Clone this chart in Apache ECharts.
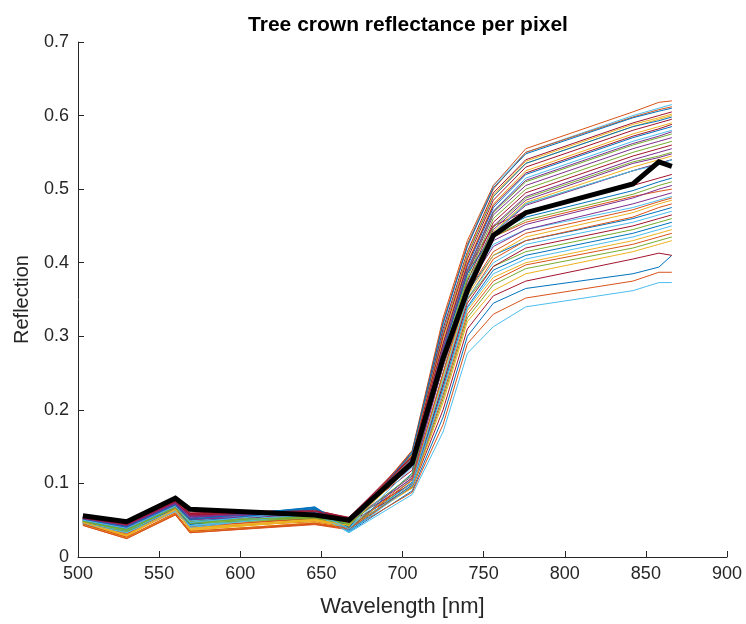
<!DOCTYPE html>
<html>
<head>
<meta charset="utf-8">
<script src="https://cdn.jsdelivr.net/npm/echarts@6/dist/echarts.min.js"></script>
<style>
html,body{margin:0;padding:0;background:#fff;}
#chart{width:746px;height:624px;}
</style>
</head>
<body>
<div id="chart"></div>
<script>
const wavelengths = [503, 530, 560, 569, 646, 667, 706, 725, 740, 756, 776, 842, 858, 866];
const xTicks = [500, 550, 600, 650, 700, 750, 800, 850, 900];
const yTicks = [0, 0.1, 0.2, 0.3, 0.4, 0.5, 0.6, 0.7];
const chartTitle = 'Tree crown reflectance per pixel';
const xLabel = 'Wavelength [nm]';
const yLabel = 'Reflection';
const lineColors = ['#0072BD', '#D95319', '#EDB120', '#7E2F8E', '#77AC30', '#4DBEEE', '#A2142F'];

const crownSpectrum = [0.056, 0.048, 0.080, 0.065, 0.057, 0.050, 0.128, 0.270, 0.362, 0.437, 0.468, 0.507, 0.537, 0.531];

const pixelSpectra = [
  [0.050,0.040,0.070,0.052,0.062,0.044,0.135,0.290,0.395,0.475,0.520,0.570,0.580,0.585],
  [0.046,0.030,0.062,0.040,0.048,0.040,0.108,0.280,0.390,0.435,0.455,0.490,0.497,0.500],
  [0.047,0.028,0.066,0.036,0.050,0.042,0.138,0.300,0.410,0.490,0.535,0.585,0.595,0.600],
  [0.052,0.042,0.072,0.055,0.060,0.047,0.128,0.265,0.370,0.450,0.490,0.540,0.550,0.555],
  [0.049,0.036,0.068,0.048,0.054,0.043,0.100,0.240,0.350,0.395,0.415,0.445,0.455,0.460],
  [0.051,0.041,0.071,0.050,0.064,0.040,0.142,0.315,0.425,0.505,0.550,0.600,0.610,0.615],
  [0.053,0.044,0.074,0.058,0.063,0.052,0.118,0.285,0.390,0.450,0.470,0.505,0.515,0.520],
  [0.048,0.038,0.066,0.045,0.066,0.036,0.102,0.250,0.360,0.410,0.430,0.460,0.470,0.475],
  [0.049,0.032,0.067,0.042,0.052,0.043,0.145,0.325,0.430,0.505,0.555,0.605,0.618,0.620],
  [0.045,0.027,0.060,0.035,0.046,0.039,0.097,0.225,0.335,0.380,0.400,0.430,0.440,0.445],
  [0.052,0.043,0.073,0.056,0.061,0.050,0.132,0.280,0.385,0.465,0.505,0.555,0.565,0.570],
  [0.050,0.039,0.070,0.050,0.056,0.046,0.124,0.260,0.360,0.440,0.480,0.525,0.535,0.540],
  [0.047,0.035,0.064,0.043,0.058,0.038,0.106,0.270,0.375,0.425,0.445,0.475,0.485,0.490],
  [0.054,0.045,0.076,0.060,0.064,0.053,0.140,0.310,0.415,0.495,0.540,0.590,0.600,0.605],
  [0.046,0.035,0.063,0.040,0.065,0.034,0.090,0.190,0.300,0.345,0.365,0.385,0.394,0.410],
  [0.044,0.026,0.058,0.034,0.045,0.038,0.098,0.235,0.350,0.405,0.430,0.462,0.475,0.480],
  [0.048,0.030,0.067,0.040,0.051,0.044,0.136,0.295,0.400,0.480,0.525,0.575,0.585,0.590],
  [0.051,0.040,0.070,0.052,0.059,0.048,0.110,0.265,0.370,0.430,0.452,0.488,0.500,0.505],
  [0.050,0.038,0.069,0.049,0.055,0.045,0.130,0.275,0.380,0.460,0.500,0.550,0.560,0.565],
  [0.045,0.034,0.062,0.041,0.060,0.033,0.085,0.170,0.277,0.313,0.340,0.362,0.373,0.373],
  [0.050,0.041,0.068,0.050,0.058,0.047,0.094,0.200,0.310,0.355,0.375,0.405,0.413,0.410],
  [0.052,0.042,0.071,0.053,0.067,0.041,0.140,0.305,0.410,0.490,0.535,0.585,0.593,0.598],
  [0.043,0.025,0.057,0.033,0.044,0.037,0.088,0.180,0.290,0.330,0.352,0.375,0.387,0.387],
  [0.046,0.029,0.063,0.038,0.049,0.041,0.104,0.245,0.355,0.410,0.435,0.468,0.480,0.485],
  [0.053,0.044,0.074,0.057,0.062,0.051,0.126,0.262,0.365,0.445,0.485,0.535,0.543,0.548],
  [0.047,0.034,0.065,0.045,0.052,0.041,0.095,0.215,0.325,0.370,0.392,0.420,0.430,0.435],
  [0.050,0.040,0.070,0.049,0.063,0.039,0.134,0.285,0.390,0.470,0.515,0.565,0.575,0.580],
  [0.052,0.043,0.072,0.055,0.061,0.050,0.100,0.235,0.345,0.395,0.420,0.450,0.460,0.465],
  [0.047,0.037,0.065,0.044,0.068,0.035,0.098,0.230,0.340,0.390,0.410,0.440,0.450,0.455],
  [0.048,0.031,0.066,0.041,0.053,0.042,0.144,0.320,0.425,0.500,0.550,0.598,0.608,0.612],
  [0.044,0.026,0.059,0.034,0.047,0.039,0.094,0.210,0.320,0.362,0.385,0.415,0.425,0.430],
  [0.051,0.041,0.072,0.054,0.060,0.049,0.123,0.258,0.360,0.440,0.478,0.525,0.535,0.540],
  [0.049,0.037,0.068,0.047,0.054,0.044,0.133,0.282,0.388,0.468,0.510,0.560,0.570,0.575],
  [0.046,0.036,0.064,0.042,0.061,0.036,0.101,0.240,0.352,0.400,0.425,0.455,0.465,0.470],
  [0.053,0.045,0.075,0.058,0.062,0.052,0.129,0.270,0.375,0.455,0.495,0.545,0.555,0.560],
  [0.049,0.039,0.068,0.047,0.066,0.037,0.114,0.280,0.385,0.440,0.462,0.498,0.510,0.515],
  [0.043,0.025,0.058,0.033,0.045,0.038,0.096,0.220,0.330,0.375,0.397,0.425,0.435,0.440],
  [0.047,0.029,0.065,0.037,0.050,0.042,0.139,0.302,0.412,0.492,0.538,0.588,0.597,0.602],
  [0.050,0.040,0.070,0.051,0.058,0.048,0.107,0.260,0.368,0.422,0.445,0.480,0.490,0.495],
  [0.048,0.036,0.067,0.046,0.053,0.043,0.127,0.265,0.368,0.448,0.488,0.537,0.545,0.550],
  [0.045,0.033,0.062,0.040,0.059,0.034,0.097,0.225,0.338,0.385,0.405,0.435,0.445,0.450],
  [0.054,0.046,0.077,0.059,0.063,0.054,0.137,0.300,0.405,0.485,0.530,0.580,0.590,0.595],
  [0.051,0.041,0.071,0.051,0.068,0.040,0.143,0.318,0.422,0.502,0.548,0.597,0.606,0.610],
  [0.045,0.027,0.060,0.035,0.046,0.039,0.105,0.250,0.360,0.415,0.440,0.472,0.483,0.488],
  [0.047,0.030,0.064,0.039,0.051,0.043,0.125,0.260,0.362,0.442,0.482,0.530,0.540,0.545],
  [0.052,0.043,0.073,0.055,0.061,0.050,0.134,0.284,0.390,0.470,0.512,0.562,0.572,0.578],
  [0.049,0.037,0.068,0.048,0.055,0.045,0.112,0.270,0.378,0.435,0.458,0.493,0.505,0.510],
  [0.050,0.039,0.069,0.047,0.062,0.038,0.122,0.262,0.362,0.440,0.480,0.525,0.533,0.540],
  [0.053,0.044,0.075,0.057,0.062,0.052,0.136,0.290,0.398,0.478,0.522,0.572,0.582,0.588]
];

const textColor = '#262626';
const fontFam = '"Liberation Sans", Arial, Helvetica, sans-serif';

function toPairs(values) {
  return wavelengths.map((w, i) => [w, values[i]]);
}

const series = pixelSpectra.map((row, i) => ({
  type: 'line',
  data: toPairs(row),
  showSymbol: false,
  symbol: 'none',
  silent: true,
  lineStyle: { width: 1, color: lineColors[i % lineColors.length] },
  z: 2
}));
series.push({
  type: 'line',
  data: toPairs(crownSpectrum),
  showSymbol: false,
  symbol: 'none',
  silent: true,
  lineStyle: { width: 5, color: '#000000', join: 'miter' },
  z: 5
});

const chart = echarts.init(document.getElementById('chart'), null, { renderer: 'canvas' });
chart.setOption({
  animation: false,
  backgroundColor: '#ffffff',
  title: {
    text: chartTitle,
    left: 403,
    textAlign: 'center',
    top: 10,
    textStyle: { fontFamily: fontFam, fontSize: 21, fontWeight: 'bold', color: '#000000' }
  },
  grid: { left: 78, right: 19, top: 42, bottom: 67, containLabel: false, outerBoundsMode: 'none' },
  xAxis: {
    type: 'value',
    min: xTicks[0],
    max: xTicks[xTicks.length - 1],
    interval: xTicks[1] - xTicks[0],
    name: xLabel,
    nameLocation: 'middle',
    nameGap: 39,
    nameTextStyle: { fontFamily: fontFam, fontSize: 22, color: textColor },
    axisLine: { show: true, lineStyle: { color: textColor, width: 1 } },
    axisTick: { show: true, inside: true, length: 6, lineStyle: { color: textColor } },
    axisLabel: { fontFamily: fontFam, fontSize: 18, color: textColor, margin: 8 },
    splitLine: { show: false }
  },
  yAxis: {
    type: 'value',
    min: yTicks[0],
    max: yTicks[yTicks.length - 1],
    interval: 0.1,
    name: yLabel,
    nameLocation: 'middle',
    nameGap: 46,
    nameTextStyle: { fontFamily: fontFam, fontSize: 20, color: textColor },
    axisLine: { show: true, lineStyle: { color: textColor, width: 1 } },
    axisTick: { show: true, inside: true, length: 6, lineStyle: { color: textColor } },
    axisLabel: { fontFamily: fontFam, fontSize: 18, color: textColor, margin: 9,
      formatter: v => String(+v.toFixed(1)) },
    splitLine: { show: false }
  },
  series: series
});
</script>
</body>
</html>
